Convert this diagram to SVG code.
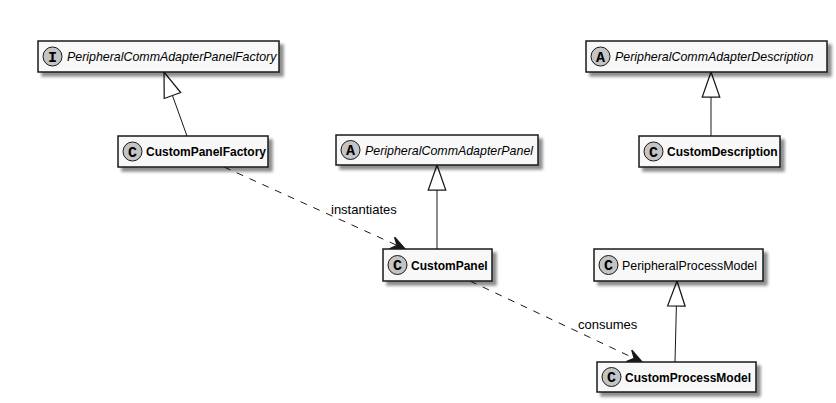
<svg xmlns="http://www.w3.org/2000/svg" width="836" height="403" viewBox="0 0 836 403">
<style>
.box{fill:#F8F8F8;stroke:#181818;stroke-width:1.5;filter:url(#sh)}
.ic{fill:#C4C4C4;stroke:#181818;stroke-width:1}
.il{font-family:"Liberation Mono",monospace;font-weight:bold;font-size:15px;fill:#000;text-anchor:middle}
.nm{font-family:"Liberation Sans",Arial,sans-serif;font-size:12.4px;fill:#000}
.b{font-weight:bold;font-size:12px}
.i{font-style:italic}
.gen{fill:none;stroke:#181818;stroke-width:1;marker-end:url(#tri)}
.dep{fill:none;stroke:#181818;stroke-width:1;stroke-dasharray:7,7;marker-end:url(#arr)}
.lbl{font-family:"Liberation Sans",Arial,sans-serif;font-size:13px;fill:#000}
</style>
<defs>
<filter id="sh" x="-10%" y="-30%" width="130%" height="180%">
<feGaussianBlur in="SourceAlpha" stdDeviation="1.8"/>
<feOffset dx="4" dy="4" result="o"/>
<feComponentTransfer><feFuncA type="linear" slope="0.45"/></feComponentTransfer>
<feMerge><feMergeNode/><feMergeNode in="SourceGraphic"/></feMerge>
</filter>
<marker id="tri" markerUnits="userSpaceOnUse" markerWidth="30" markerHeight="30" viewBox="-22 -10 24 20" refX="0" refY="0" orient="auto">
<path d="M0,0 L-20,-7 L-20,7 Z" fill="#FFFFFF" stroke="#181818" stroke-width="1"/>
</marker>
<marker id="arr" markerUnits="userSpaceOnUse" markerWidth="20" markerHeight="20" viewBox="-12 -6 14 12" refX="0" refY="0" orient="auto">
<path d="M0,0 L-10,-4.5 L-6,0 L-10,4.5 Z" fill="#181818" stroke="#181818" stroke-width="1"/>
</marker>
</defs>

<g id="connectors">
<path class="gen" d="M187,136 L164,72"/>
<path class="gen" d="M437,249 L437,165"/>
<path class="gen" d="M711,136 L711,72"/>
<path class="gen" d="M675,362 L677,281"/>
<path class="dep" d="M224,167 L405,249"/>
<text class="lbl" x="331" y="214">instantiates</text>
<path class="dep" d="M470,281 L642,362"/>
<text class="lbl" x="578" y="329">consumes</text>
</g>

<g id="PeripheralCommAdapterPanelFactory">
<rect class="box" x="38" y="41" width="241" height="31"/>
<circle class="ic" cx="52.5" cy="56.5" r="9.5"/>
<text class="il" x="52.5" y="61.5">I</text>
<text class="nm i" x="67" y="61">PeripheralCommAdapterPanelFactory</text>
</g>

<g id="CustomPanelFactory">
<rect class="box" x="118" y="136" width="150" height="31"/>
<circle class="ic" cx="132.5" cy="151.5" r="9.5"/>
<text class="il" x="132.5" y="156.5">C</text>
<text class="nm b" x="146" y="156">CustomPanelFactory</text>
</g>

<g id="PeripheralCommAdapterPanel">
<rect class="box" x="336" y="135" width="202" height="30"/>
<circle class="ic" cx="350.5" cy="150" r="9.5"/>
<text class="il" x="350.5" y="155">A</text>
<text class="nm i" x="365" y="154.5">PeripheralCommAdapterPanel</text>
</g>

<g id="CustomPanel">
<rect class="box" x="383" y="249" width="109" height="32"/>
<circle class="ic" cx="397.5" cy="265" r="9.5"/>
<text class="il" x="397.5" y="270">C</text>
<text class="nm b" x="411" y="269.5">CustomPanel</text>
</g>

<g id="PeripheralCommAdapterDescription">
<rect class="box" x="586" y="41" width="241" height="31"/>
<circle class="ic" cx="600.5" cy="56.5" r="9.5"/>
<text class="il" x="600.5" y="61.5">A</text>
<text class="nm i" x="615" y="61">PeripheralCommAdapterDescription</text>
</g>

<g id="CustomDescription">
<rect class="box" x="639" y="136" width="141" height="31"/>
<circle class="ic" cx="653.5" cy="151.5" r="9.5"/>
<text class="il" x="653.5" y="156.5">C</text>
<text class="nm b" x="667" y="156">CustomDescription</text>
</g>

<g id="PeripheralProcessModel">
<rect class="box" x="594" y="249" width="169" height="32"/>
<circle class="ic" cx="608.5" cy="265" r="9.5"/>
<text class="il" x="608.5" y="270">C</text>
<text class="nm" x="622" y="269.5">PeripheralProcessModel</text>
</g>

<g id="CustomProcessModel">
<rect class="box" x="597" y="362" width="159" height="30"/>
<circle class="ic" cx="611.5" cy="377" r="9.5"/>
<text class="il" x="611.5" y="382">C</text>
<text class="nm b" x="625" y="381.5">CustomProcessModel</text>
</g>
</svg>
